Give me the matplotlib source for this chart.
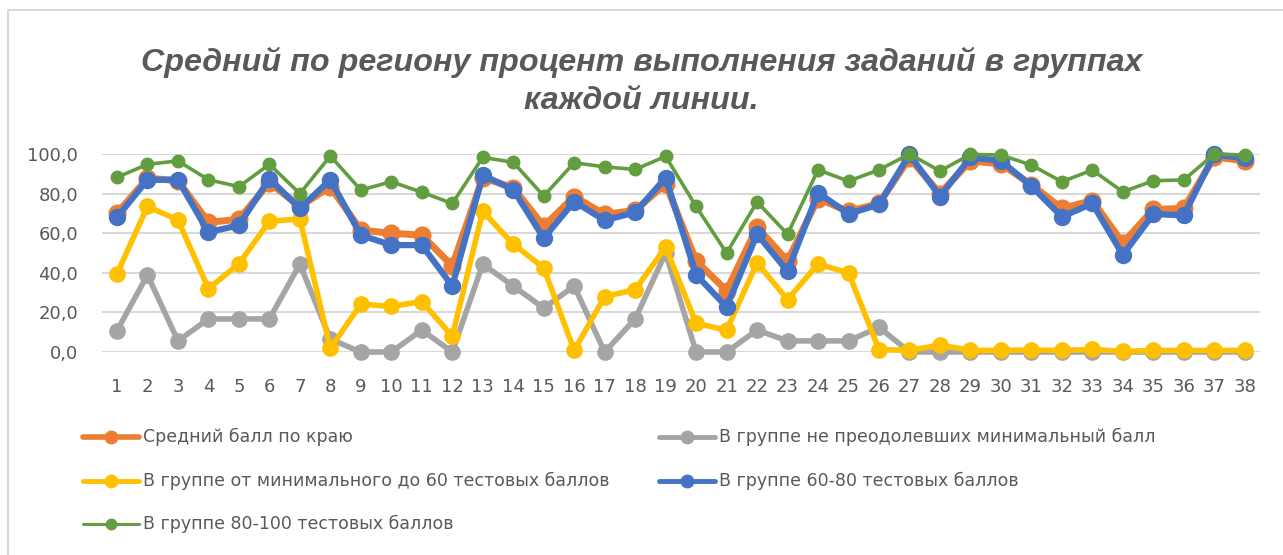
import matplotlib
matplotlib.use("Agg")
import matplotlib.pyplot as plt
from matplotlib.lines import Line2D

# data
tasks = list(range(1, 39))

avg_region = [70.0, 87.8, 86.5, 65.5, 67.0, 85.5, 73.5, 83.5, 61.5, 60.0,
              59.0, 43.5, 88.0, 83.0, 63.5, 78.5, 69.5, 71.5, 85.0, 46.0,
              31.0, 63.0, 46.0, 77.5, 71.0, 75.0, 98.0, 80.0, 96.5, 95.0,
              84.5, 72.5, 76.5, 55.0, 72.0, 72.5, 98.5, 96.5]
below_min = [10.8, 38.9, 5.6, 16.7, 16.7, 16.7, 44.4, 6.5, 0.0, 0.0,
             11.1, 0.0, 44.4, 33.3, 22.2, 33.3, 0.0, 16.7, 50.0, 0.0,
             0.0, 11.1, 5.6, 5.6, 5.6, 12.5, 0.0, 0.0, 0.0, 0.0,
             0.0, 0.0, 0.0, 0.0, 0.0, 0.0, 0.0, 0.0]
min_to_60 = [39.5, 73.5, 66.7, 32.0, 44.5, 66.0, 67.2, 1.8, 24.2, 23.0,
             25.5, 8.0, 71.0, 54.5, 42.5, 0.8, 28.0, 31.5, 53.0, 14.5,
             11.0, 45.0, 26.5, 44.4, 40.0, 1.2, 0.8, 3.5, 0.8, 0.8,
             1.0, 0.8, 1.3, 0.3, 0.8, 0.8, 0.8, 0.8]
g60_80 = [68.0, 87.0, 87.0, 60.5, 64.0, 87.5, 72.5, 87.0, 59.0, 54.0,
          54.0, 33.3, 89.3, 82.0, 57.5, 76.0, 66.5, 70.5, 88.0, 39.0,
          22.8, 59.5, 40.8, 80.5, 69.7, 74.5, 99.8, 78.5, 98.3, 96.6,
          83.8, 68.3, 75.0, 49.0, 69.7, 69.0, 99.8, 97.8]
g80_100 = [88.2, 94.8, 96.5, 87.0, 83.5, 94.8, 80.0, 99.0, 81.8, 86.0,
           80.7, 75.0, 98.3, 95.8, 78.8, 95.6, 93.5, 92.2, 98.8, 73.5,
           50.0, 75.8, 59.5, 92.0, 86.3, 92.0, 100.0, 91.4, 99.8, 99.5,
           94.4, 86.0, 91.9, 80.9, 86.5, 86.9, 100.0, 99.5]

# label, values, colour, line width, marker size (plot), line width / marker (legend)
series = [
    ("Средний балл по краю", avg_region, "#ED7D31", 5.0, 12, 4.0, 9),
    ("В группе не преодолевших минимальный балл", below_min, "#A5A5A5", 4.0, 11, 3.5, 9),
    ("В группе от минимального до 60 тестовых баллов", min_to_60, "#FFC000", 4.0, 11, 3.5, 9),
    ("В группе 60-80 тестовых баллов", g60_80, "#4472C4", 4.5, 11.5, 3.5, 9),
    ("В группе 80-100 тестовых баллов", g80_100, "#629E40", 2.6, 9, 2.2, 7.5),
]

W, H = 1283, 555
fig = plt.figure(figsize=(W / 100, H / 100), dpi=100)
ax = fig.add_axes([101.75 / W, 1 - 352 / H, (1260 - 101.75) / W, (352 - 154) / H])

for label, vals, color, lw, ms, _, _ in series:
    ax.plot(tasks, vals, color=color, lw=lw, marker="o", ms=ms,
            solid_capstyle="round", clip_on=False, zorder=3)

ax.set_xlim(0.5, 38.5)
ax.set_ylim(0, 100)
ax.set_yticks([0, 20, 40, 60, 80, 100])
ax.set_yticklabels([f"{v:.1f}".replace(".", ",") for v in [0, 20, 40, 60, 80, 100]])
ax.set_xticks(tasks)
ax.set_xticklabels([str(t) for t in tasks])
ax.grid(axis="y", color="#D9D9D9", lw=1.5, zorder=0)
ax.tick_params(axis="both", length=0, labelsize=13, colors="#595959")
ax.tick_params(axis="x", pad=19)
ax.tick_params(axis="y", pad=17)
for sp in ax.spines.values():
    sp.set_visible(False)

fig.text(0.5, 1 - 62 / H, "Средний по региону процент выполнения заданий в группах",
         ha="center", va="center", fontsize=23.2, fontweight="bold", style="italic",
         color="#595959", family="Liberation Sans")
fig.text(0.5, 1 - 101 / H, "каждой линии.", ha="center", va="center", fontsize=23.2,
         fontweight="bold", style="italic", color="#595959", family="Liberation Sans")

# legend laid out like the Excel one (row-major, two columns)
slots = [(83, 437), (659, 437), (83, 481), (659, 481), (83, 524)]
for (label, vals, color, lw, ms, llw, lms), (x0, y0) in zip(series, slots):
    yf = 1 - y0 / H
    fig.add_artist(Line2D([x0 / W, (x0 + 56) / W], [yf, yf], color=color, lw=llw,
                          solid_capstyle="round"))
    fig.add_artist(Line2D([(x0 + 28) / W], [yf], color=color, marker="o", ms=lms))
    fig.text((x0 + 60) / W, yf, label, ha="left", va="center", fontsize=12.5,
             color="#595959")

# chart border
fig.add_artist(Line2D([7.5 / W, 7.5 / W, 1], [0, 1 - 9.5 / H, 1 - 9.5 / H],
                      color="#D9D9D9", lw=1.5))

fig.savefig("out.png", dpi=100, facecolor="white")
